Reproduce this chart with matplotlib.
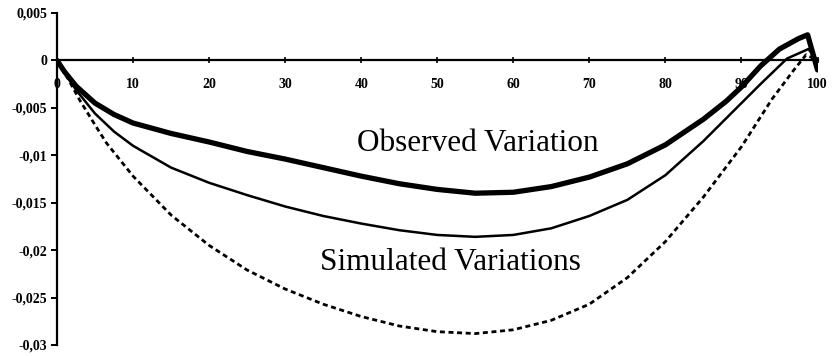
import numpy as np
import matplotlib
matplotlib.use('Agg')
import matplotlib.pyplot as plt

# observed variation (thick line)
obs_x = [0, 1, 2.5, 5, 7.5, 10, 15, 20, 25, 30, 35, 40, 45, 50, 55, 60, 65, 70, 75, 80, 85,
         88, 90, 92.5, 95, 97.5, 98.7, 100]
obs_y = [0, -0.0012, -0.0027, -0.0045, -0.0057, -0.0066, -0.0077, -0.0086, -0.0096, -0.0104,
         -0.0113, -0.0122, -0.0130, -0.0136, -0.0140, -0.0139, -0.0133, -0.0123, -0.0109, -0.0089,
         -0.0062, -0.0043, -0.0028, -0.0006, 0.0012, 0.0023, 0.0027, -0.0010]

# simulated variation (thin solid)
sim1_x = [0, 1, 2.5, 5, 7.5, 10, 15, 20, 25, 30, 35, 40, 45, 50, 55, 60, 65, 70, 75, 80, 85,
          90, 92.5, 94.7, 96, 98.8, 100]
sim1_y = [0, -0.0013, -0.0031, -0.0056, -0.0075, -0.0090, -0.0113, -0.0129, -0.0142, -0.0154,
          -0.0164, -0.0172, -0.0179, -0.0184, -0.0186, -0.0184, -0.0177, -0.0164, -0.0147, -0.0121,
          -0.0085, -0.0045, -0.0025, -0.0008, 0.0002, 0.0012, 0.0]

# simulated variation (dashed)
sim2_x = [0, 1.5, 3, 5, 6.5, 10, 15, 20, 25, 30, 35, 40, 45, 50, 55, 60, 65, 70, 75, 80, 85,
          90, 94, 96.8, 98.5, 100]
sim2_y = [0, -0.0020, -0.0042, -0.0068, -0.0087, -0.0122, -0.0163, -0.0195, -0.0221, -0.0241,
          -0.0257, -0.0270, -0.0280, -0.0286, -0.0288, -0.0284, -0.0274, -0.0257, -0.0229, -0.0191,
          -0.0144, -0.0091, -0.0041, -0.0011, 0.0006, 0.0]

x_ticks = [0, 10, 20, 30, 40, 50, 60, 70, 80, 90, 100]
y_ticks = [0.005, 0, -0.005, -0.01, -0.015, -0.02, -0.025, -0.03]
y_tick_labels = ['0,005', '0', '-0,005', '-0,01', '-0,015', '-0,02', '-0,025', '-0,03']

plt.rcParams['font.family'] = ['Liberation Serif', 'DejaVu Serif']

fig = plt.figure(figsize=(8.33, 3.56), dpi=100)
ax = fig.add_axes([0.0684, 0.031, 0.913, 0.9325])

ax.plot(obs_x, obs_y, color='black', linewidth=3.8, solid_capstyle='round',
        solid_joinstyle='round', zorder=3)
ax.plot(sim1_x, sim1_y, color='black', linewidth=1.8, solid_joinstyle='round', zorder=3)
ax.plot(sim2_x, sim2_y, color='black', linewidth=2.0, linestyle=(0, (1.8, 1.3)), zorder=3)

ax.set_xlim(0, 100)
ax.set_ylim(-0.03, 0.005)

for spine in ('top', 'right'):
    ax.spines[spine].set_visible(False)
ax.spines['bottom'].set_position(('data', 0))
ax.spines['left'].set_linewidth(1.6)
ax.spines['bottom'].set_linewidth(1.6)

ax.set_xticks(x_ticks)
ax.set_xticklabels([str(t) for t in x_ticks], fontsize=10, fontweight='bold')
ax.set_yticks(y_ticks)
ax.set_yticklabels(y_tick_labels, fontsize=10, fontweight='bold')
ax.tick_params(axis='x', direction='inout', length=5, width=1.2, pad=10)
ax.tick_params(axis='y', direction='out', length=4, width=1.4, pad=3)

ax.text(55.4, -0.0088, 'Observed Variation', fontsize=22.5, ha='center', va='center')
ax.text(51.7, -0.0213, 'Simulated Variations', fontsize=22.5, ha='center', va='center')

plt.savefig('out.png', dpi=100)
